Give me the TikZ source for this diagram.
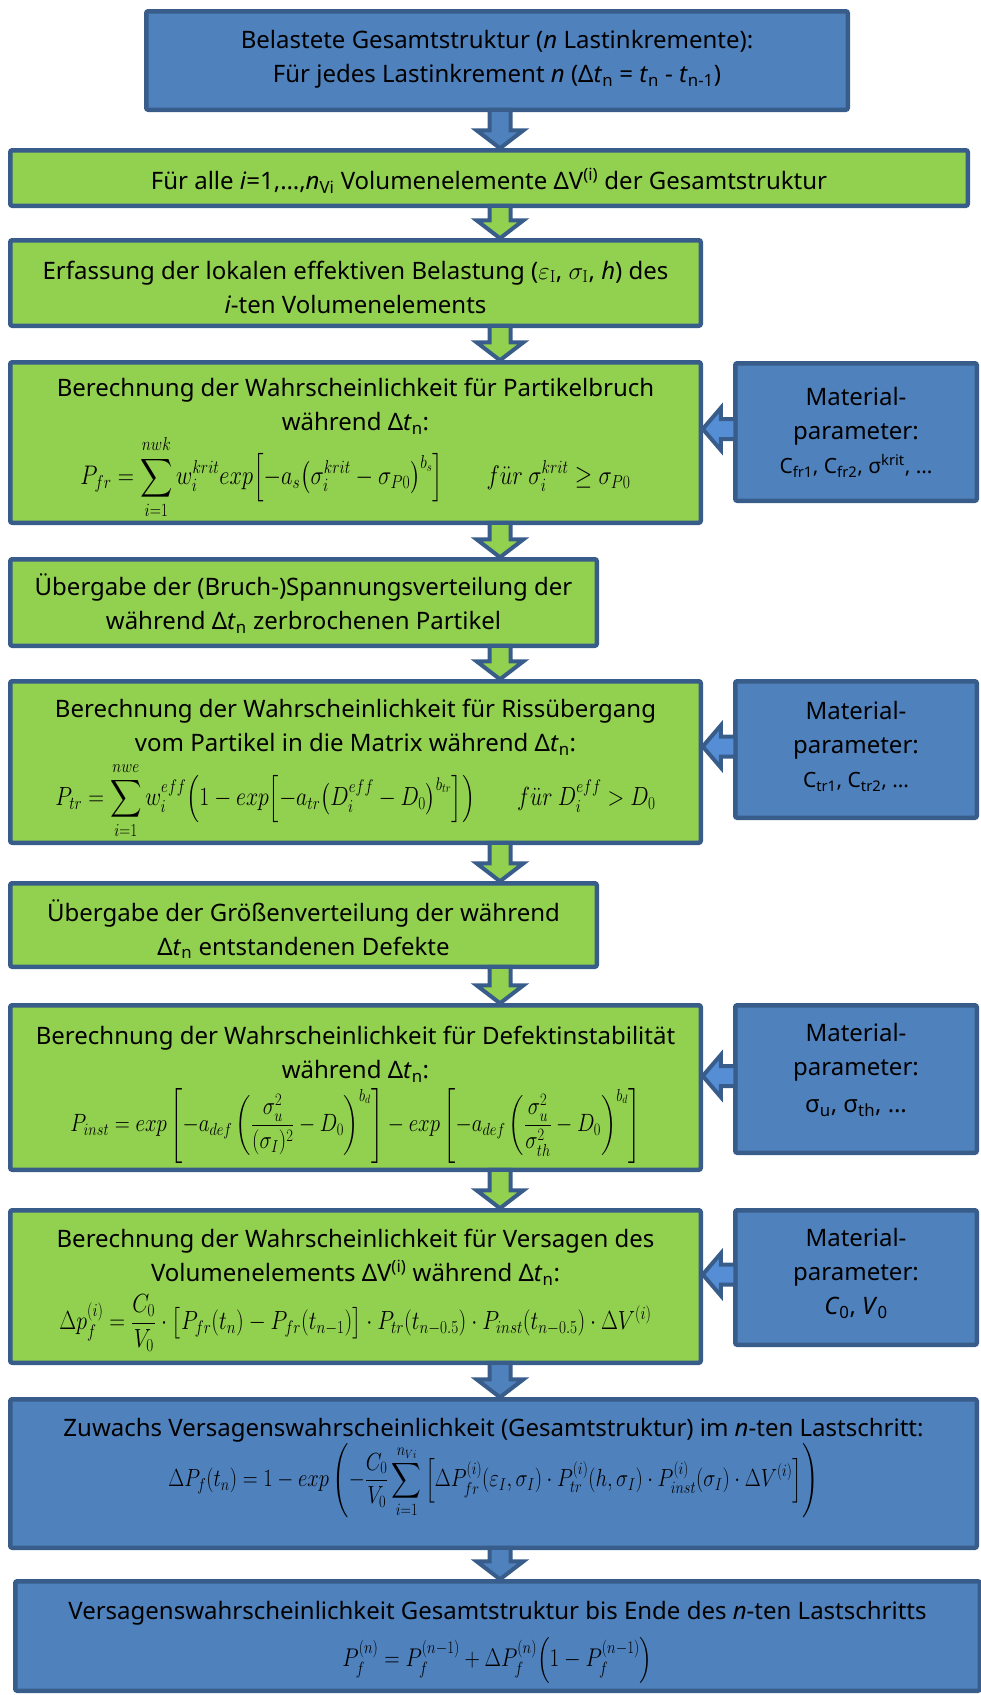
\documentclass[tikz,border=0pt]{standalone}
\usepackage[no-math]{fontspec}
\setmainfont{Noto Sans}
\usepackage{amsmath}
\usepackage{graphicx}
\usetikzlibrary{calc}

\definecolor{boxblue}{RGB}{79,129,189}
\definecolor{edgeblue}{RGB}{56,93,138}
\definecolor{boxgreen}{RGB}{146,208,80}
\definecolor{arrowblue}{RGB}{85,142,213}

% Delta t_n as it appears in the running text
\newcommand\dtn{Δ\textit{t}\textsubscript{n}}
% formula set to a given width and stretched a little in height
\newcommand\formula[2]{\scalebox{1}[1.2]{\resizebox{#1}{!}{$\displaystyle #2$}}}

% block arrow pointing down from one step to the next (common axis x = 500)
\newcommand\flowdown[3]{%
  \draw[blockarrow, fill=#3] let \p1=(#1.south), \p2=(#2.north) in
    (489.5pt,\y1) -- (489.5pt,{\y2+20pt}) -- (476.5pt,{\y2+20pt}) --
    (500pt,{\y2+2pt}) -- (523.5pt,{\y2+20pt}) -- (510.5pt,{\y2+20pt}) --
    (510.5pt,\y1) -- cycle;}

% block arrow pointing left from a parameter box into a step
\newcommand\flowleft[2]{%
  \draw[blockarrow, fill=arrowblue] let \p1=(#1.west), \p2=(#2.east) in
    (\x1,{\y1+13pt}) -- ({\x2+20pt},{\y1+13pt}) -- ({\x2+20pt},{\y1+24pt}) --
    ({\x2+2pt},{\y1+3pt}) -- ({\x2+20pt},{\y1-18pt}) -- ({\x2+20pt},{\y1-7pt}) --
    (\x1,{\y1-7pt}) -- cycle;}

\tikzset{
  flow/.style={draw=edgeblue, line width=4.5pt, rounded corners=2pt,
    inner sep=0pt, outer sep=0pt},
  bluebox/.style={flow, fill=boxblue},
  greenbox/.style={flow, fill=boxgreen},
  boxtext/.style={align=center, inner sep=0pt, text=black,
    font=\fontsize{24}{34}\selectfont},
  blockarrow/.style={draw=edgeblue, line width=4pt, line join=miter},
}

\begin{document}
\begin{tikzpicture}[x=1pt, y=-1pt]
\useasboundingbox (0,0) rectangle (981,1695);

% ---- boxes of the main chain
\node[bluebox,  minimum width=701.5pt, minimum height=98.5pt]  (s1)  at (497,60.5) {};
\node[greenbox, minimum width=957.5pt, minimum height=55.5pt]  (s2)  at (489,178) {};
\node[greenbox, minimum width=690.5pt, minimum height=85.5pt]  (s3)  at (355.5,283) {};
\node[greenbox, minimum width=690.5pt, minimum height=160.5pt] (s4)  at (355.5,442.5) {};
\node[greenbox, minimum width=586.5pt, minimum height=86.5pt]  (s5)  at (303.5,602.5) {};
\node[greenbox, minimum width=690.5pt, minimum height=161.5pt] (s6)  at (355.5,762) {};
\node[greenbox, minimum width=586.5pt, minimum height=83.5pt]  (s7)  at (303.5,925) {};
\node[greenbox, minimum width=690.5pt, minimum height=164.5pt] (s8)  at (355.5,1087.5) {};
\node[greenbox, minimum width=690.5pt, minimum height=152.5pt] (s9)  at (355.5,1286.5) {};
\node[bluebox,  minimum width=966.5pt, minimum height=148.5pt] (s10) at (493.5,1473.5) {};
\node[bluebox,  minimum width=964.5pt, minimum height=109.5pt] (s11) at (497.5,1636) {};

% ---- material parameter boxes
\node[bluebox, minimum width=241.5pt, minimum height=137.5pt] (m1) at (856,432) {};
\node[bluebox, minimum width=241.5pt, minimum height=136.5pt] (m2) at (856,749.5) {};
\node[bluebox, minimum width=241.5pt, minimum height=147.5pt] (m3) at (856,1079) {};
\node[bluebox, minimum width=241.5pt, minimum height=134.5pt] (m4) at (856,1277.5) {};

% ---- texts of the main chain
\node[boxtext] (s1t) at ([yshift=1pt]s1.center)
  {Belastete Gesamtstruktur (\textit{n} Lastinkremente):\\
   Für jedes Lastinkrement \textit{n} (Δ\textit{t}\textsubscript{n} = \textit{t}\textsubscript{n} - \textit{t}\textsubscript{n-1})};

\node[boxtext] (s2t) at ([yshift=-3pt]s2.center)
  {Für alle \textit{i}=1,…,\textit{n}\textsubscript{Vi} Volumenelemente ΔV\textsuperscript{(i)} der Gesamtstruktur};

\node[boxtext] (s3t) at ([yshift=-4pt]s3.center)
  {Erfassung der lokalen effektiven Belastung ($\varepsilon_{\mathrm{I}}$, $\sigma_{\mathrm{I}}$, \textit{h}) des\\
   \textit{i}-ten Volumenelements};

\node[boxtext] (s4t) at ([yshift=-6pt]s4.center)
  {Berechnung der Wahrscheinlichkeit für Partikelbruch\\
   während \dtn:\\[0pt]
   \formula{550pt}{P_{fr}=\sum_{i=1}^{nwk} w_i^{krit}exp\Big[{-}a_s\big(\sigma_i^{krit}-\sigma_{P0}\big)^{b_s}\Big]\qquad f\ddot{u}r\ \sigma_i^{krit}\geq\sigma_{P0}}};

\node[boxtext] (s5t) at ([yshift=-1pt]s5.center)
  {Übergabe der (Bruch-)Spannungsverteilung der\\
   während \dtn{} zerbrochenen Partikel};

\node[boxtext] (s6t) at ([yshift=-7pt]s6.center)
  {Berechnung der Wahrscheinlichkeit für Rissübergang\\
   vom Partikel in die Matrix während \dtn:\\[6pt]
   \formula{600pt}{P_{tr}=\sum_{i=1}^{nwe} w_i^{eff}\Big(1-exp\Big[{-}a_{tr}\big(D_i^{eff}-D_0\big)^{b_{tr}}\Big]\Big)\qquad f\ddot{u}r\ D_i^{eff}>D_0}};

\node[boxtext] (s7t) at ([yshift=-4pt]s7.center)
  {Übergabe der Größenverteilung der während\\
   \dtn{} entstandenen Defekte};

\node[boxtext] (s8t) at ([yshift=-7pt]s8.center)
  {Berechnung der Wahrscheinlichkeit für Defektinstabilität\\
   während \dtn:\\[5pt]
   \formula{570pt}{P_{inst}=exp\left[-a_{def}\left(\frac{\sigma_u^2}{(\sigma_I)^2}-D_0\right)^{b_d}\right]-exp\left[-a_{def}\left(\frac{\sigma_u^2}{\sigma_{th}^2}-D_0\right)^{b_d}\right]}};

\node[boxtext] (s9t) at ([yshift=-4pt]s9.center)
  {Berechnung der Wahrscheinlichkeit für Versagen des\\
   Volumenelements ΔV\textsuperscript{(i)} während \dtn:\\[8pt]
   \formula{592pt}{\Delta p_f^{(i)}=\frac{C_0}{V_0}\cdot\big[P_{fr}(t_n)-P_{fr}(t_{n-1})\big]\cdot P_{tr}(t_{n-0.5})\cdot P_{inst}(t_{n-0.5})\cdot\Delta V^{(i)}}};

\node[boxtext] (s10t) at ([yshift=5pt]s10.center)
  {Zuwachs Versagenswahrscheinlichkeit (Gesamtstruktur) im \textit{n}-ten Lastschritt:\\[0pt]
   \formula{650pt}{\Delta P_f(t_n)=1-exp\left(-\frac{C_0}{V_0}\sum_{i=1}^{n_{Vi}}\Big[\Delta P_{fr}^{(i)}(\varepsilon_I,\sigma_I)\cdot P_{tr}^{(i)}(h,\sigma_I)\cdot P_{inst}^{(i)}(\sigma_I)\cdot\Delta V^{(i)}\Big]\right)}};

\node[boxtext] (s11t) at ([yshift=-6pt]s11.center)
  {Versagenswahrscheinlichkeit Gesamtstruktur bis Ende des \textit{n}-ten Lastschritts\\[11pt]
   \formula{310pt}{P_f^{(n)}=P_f^{(n-1)}+\Delta P_f^{(n)}\Big(1-P_f^{(n-1)}\Big)}};

% ---- texts of the material parameter boxes
\node[boxtext] (m1t) at (m1.center)
  {Material-\\parameter:\\
   {\fontsize{21}{28}\selectfont C\textsubscript{fr1}, C\textsubscript{fr2}, σ\textsuperscript{krit}, …}};
\node[boxtext] (m2t) at ([yshift=3pt]m2.center)
  {Material-\\parameter:\\
   {\fontsize{21}{28}\selectfont C\textsubscript{tr1}, C\textsubscript{tr2}, …}};
\node[boxtext] (m3t) at ([yshift=9pt]m3.center)
  {Material-\\parameter:\\[3pt]
   σ\textsubscript{u}, σ\textsubscript{th}, …};
\node[boxtext] (m4t) at ([yshift=4pt]m4.center)
  {Material-\\parameter:\\
   \textit{C}\textsubscript{0}, \textit{V}\textsubscript{0}};

% ---- connectors
\flowdown{s1}{s2}{boxblue}
\flowdown{s2}{s3}{boxgreen}
\flowdown{s3}{s4}{boxgreen}
\flowdown{s4}{s5}{boxgreen}
\flowdown{s5}{s6}{boxgreen}
\flowdown{s6}{s7}{boxgreen}
\flowdown{s7}{s8}{boxgreen}
\flowdown{s8}{s9}{boxgreen}
\flowdown{s9}{s10}{boxblue}
\flowdown{s10}{s11}{boxblue}

\flowleft{m1}{s4}
\flowleft{m2}{s6}
\flowleft{m3}{s8}
\flowleft{m4}{s9}
\end{tikzpicture}
\end{document}
